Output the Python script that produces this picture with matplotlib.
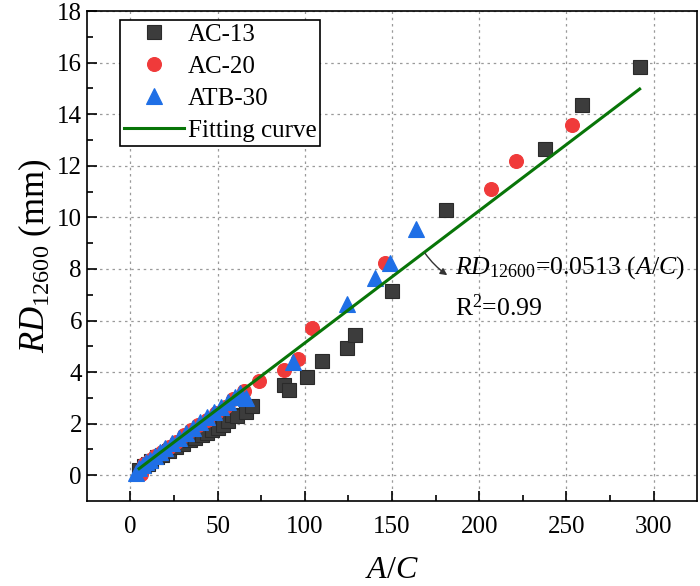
import numpy as np
import matplotlib
matplotlib.use("Agg")
import matplotlib.pyplot as plt

plt.rcParams['font.family'] = ['Liberation Serif', 'DejaVu Serif']
plt.rcParams['mathtext.fontset'] = 'custom'
plt.rcParams['mathtext.rm'] = 'Liberation Serif'
plt.rcParams['mathtext.it'] = 'Liberation Serif:italic'

# ---- data ----
ac13_x = [5, 8, 10, 12, 15, 18, 22, 26, 30, 34, 37, 41, 44, 47, 50, 53, 56, 58, 61, 66, 70,
          88, 91, 101, 110, 124, 129, 150, 181, 238, 259, 292]
ac13_y = [0.2, 0.35, 0.45, 0.55, 0.7, 0.8, 0.95, 1.1, 1.2, 1.35, 1.45, 1.55, 1.65, 1.75, 1.85,
          1.95, 2.1, 2.35, 2.3, 2.45, 2.7, 3.5, 3.3, 3.8, 4.45, 4.95, 5.45, 7.15, 10.3, 12.65, 14.35, 15.85]

ac20_x = [6, 8, 11, 14, 18, 22, 26, 31, 35, 39, 44, 49, 54, 59, 65, 74, 88, 96, 104, 146, 207, 221, 253]
ac20_y = [0.05, 0.45, 0.6, 0.75, 0.9, 1.1, 1.3, 1.55, 1.75, 1.95, 2.15, 2.4, 2.65, 2.95, 3.25,
          3.65, 4.1, 4.5, 5.7, 8.25, 11.1, 12.2, 13.6]

atb30_x = [3, 5, 7, 9, 11, 14, 17, 20, 24, 28, 32, 36, 40, 44, 48, 52, 56, 60, 63, 66,
           93, 124, 140, 149, 164]
atb30_y = [0.1, 0.3, 0.4, 0.5, 0.6, 0.75, 0.9, 1.05, 1.25, 1.45, 1.65, 1.85, 2.05, 2.25, 2.45,
           2.65, 2.85, 3.05, 3.2, 3.0, 4.4, 6.65, 7.65, 8.25, 9.55]

fit_slope = 0.0513
fit_x = [5, 292]

# ---- figure ----
fig = plt.figure(figsize=(7.0, 5.86), dpi=100)
ax = fig.add_axes([0.124, 0.145, 0.872, 0.836])

ax.plot(ac13_x, ac13_y, linestyle='none', marker='s', ms=9.5, mfc='#3c3c3c', mec='#2a2a2a',
        mew=0.8, label='AC-13', zorder=3)
ax.plot(ac20_x, ac20_y, linestyle='none', marker='o', ms=10, mfc='#f03a3a', mec='#f03a3a',
        mew=0.8, label='AC-20', zorder=4)
ax.plot(atb30_x, atb30_y, linestyle='none', marker='^', ms=12, mfc='#1f6fe6', mec='#1f6fe6',
        mew=0.8, label='ATB-30', zorder=5)
fx = np.array(fit_x, dtype=float)
ax.plot(fx, fit_slope * fx, color='#087508', lw=2.2, label='Fitting curve', zorder=6)

ax.set_xlim(-25, 325)
ax.set_ylim(-1, 18)
ax.set_xticks(np.arange(0, 301, 50))
ax.set_yticks(np.arange(0, 19, 2))
ax.set_xticks(np.arange(25, 301, 50), minor=True)
ax.set_yticks(np.arange(1, 18, 2), minor=True)
ax.tick_params(which='both', direction='in', top=False, right=False, labelsize=18, width=1.2)
ax.tick_params(which='major', length=7)
ax.tick_params(which='minor', length=4)
ax.tick_params(axis='x', pad=11)
for sp in ax.spines.values():
    sp.set_linewidth(1.2)

ax.grid(True, which='major', color='#9a9a9a', linestyle=(0, (2, 3)), linewidth=0.9)
ax.set_axisbelow(True)

ax.set_xlabel('$A/C$', fontsize=23, labelpad=13)
ax.set_ylabel(r'$RD_{12600}$ (mm)', fontsize=25, labelpad=2)

leg = ax.legend(loc='upper left', bbox_to_anchor=(0.055, 0.982), fontsize=18, frameon=True,
                fancybox=False, edgecolor='black', framealpha=1, handlelength=2.4,
                handletextpad=0.15, borderpad=0.15, labelspacing=0.38, borderaxespad=0)
leg.get_frame().set_linewidth(1.2)

ax.annotate('', xy=(183, 7.7), xytext=(168, 8.7),
            arrowprops=dict(arrowstyle='-|>', color='#333333', lw=1.0,
                            mutation_scale=10, connectionstyle='arc3,rad=0.1'), zorder=7)
ax.text(186, 8.05, r'$RD_{12600}$=0.0513 ($A/C$)', fontsize=18.5, va='center', ha='left')
ax.text(186, 6.5, r'R$^2$=0.99', fontsize=18.5, va='center', ha='left')

fig.savefig('out.png', dpi=100)
